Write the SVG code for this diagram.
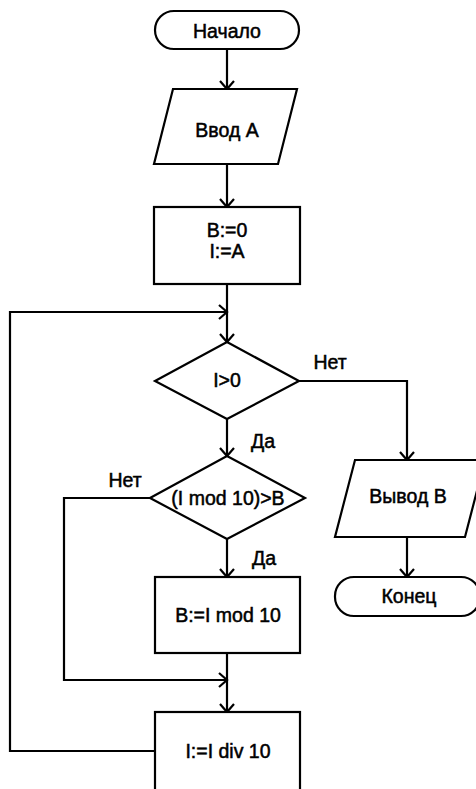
<svg xmlns="http://www.w3.org/2000/svg" width="476" height="789" viewBox="0 0 476 789">
  <style>
    .shape { fill: #ffffff; stroke: #000000; stroke-width: 2.2; }
    .line { fill: none; stroke: #000000; stroke-width: 2.2; }
    .label { font-family: "Liberation Sans", Arial, sans-serif; font-size: 19.5px; fill: #000000; stroke: #000000; stroke-width: 0.5; text-anchor: middle; }
  </style>
  <defs>
    <marker id="arrow" markerUnits="userSpaceOnUse" markerWidth="20" markerHeight="20" refX="0" refY="0" viewBox="-10 -10 20 20" orient="auto" overflow="visible">
      <path d="M-8,-7 L0,0 L-8,7" fill="none" stroke="#000000" stroke-width="2.2"/>
    </marker>
  </defs>
  <rect width="476" height="789" fill="#ffffff"/>

  <!-- connectors -->
  <g id="connectors">
    <path class="line" d="M227,49 L227,89" marker-end="url(#arrow)"/>
    <path class="line" d="M227,164 L227,207" marker-end="url(#arrow)"/>
    <path class="line" d="M227,284 L227,342" marker-end="url(#arrow)"/>
    <path class="line" d="M155,751 L10,751 L10,312 L227,312" marker-end="url(#arrow)"/>
    <path class="line" d="M299,381 L407,381 L407,460" marker-end="url(#arrow)"/>
    <path class="line" d="M227,419 L227,456" marker-end="url(#arrow)"/>
    <path class="line" d="M227,539 L227,577" marker-end="url(#arrow)"/>
    <path class="line" d="M150,498 L64,498 L64,680 L227,680" marker-end="url(#arrow)"/>
    <path class="line" d="M227,653 L227,712" marker-end="url(#arrow)"/>
    <path class="line" d="M407,537 L407,577" marker-end="url(#arrow)"/>
    <text class="label" x="330" y="369">Нет</text>
    <text class="label" x="263" y="448">Да</text>
    <text class="label" x="125" y="487">Нет</text>
    <text class="label" x="264" y="565">Да</text>
  </g>

  <g id="start">
    <rect class="shape" x="155" y="11" width="144" height="38" rx="19" ry="19"/>
    <text class="label" x="227" y="38">Начало</text>
  </g>

  <g id="input-a">
    <polygon class="shape" points="173,89 297,89 278,164 154,164"/>
    <text class="label" x="227" y="137">Ввод А</text>
  </g>

  <g id="init">
    <rect class="shape" x="154" y="207" width="146" height="77"/>
    <text class="label" x="227" y="237">B:=0</text>
    <text class="label" x="227" y="258">I:=A</text>
  </g>

  <g id="check-i">
    <polygon class="shape" points="155,381 227,342 299,381 227,419"/>
    <text class="label" x="227" y="387">I&gt;0</text>
  </g>

  <g id="check-digit">
    <polygon class="shape" points="150,498 227,456 305,498 227,539"/>
    <text class="label" x="228" y="505">(I mod 10)&gt;B</text>
  </g>

  <g id="assign-b">
    <rect class="shape" x="155" y="577" width="145" height="76"/>
    <text class="label" x="228" y="622">B:=I mod 10</text>
  </g>

  <g id="divide-i">
    <rect class="shape" x="155" y="712" width="145" height="90"/>
    <text class="label" x="228" y="758">I:=I div 10</text>
  </g>

  <g id="output-b">
    <polygon class="shape" points="355,460 485,460 465,537 335,537"/>
    <text class="label" x="408" y="503">Вывод В</text>
  </g>

  <g id="end">
    <rect class="shape" x="335" y="577" width="145" height="39" rx="19" ry="19"/>
    <text class="label" x="409" y="603">Конец</text>
  </g>
</svg>
